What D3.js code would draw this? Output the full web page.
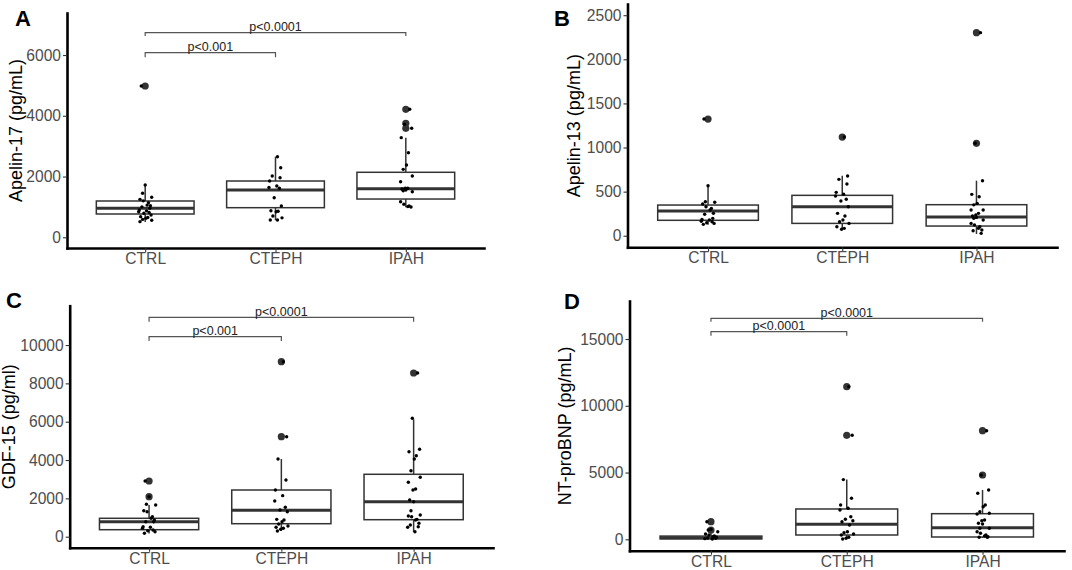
<!DOCTYPE html>
<html>
<head>
<meta charset="utf-8">
<script src="https://cdn.jsdelivr.net/npm/d3@7"></script>
<style>
  body { margin: 0; background: #fff; }
  svg { display: block; font-family: "Liberation Sans", Arial, sans-serif; }
</style>
</head>
<body>
<svg id="chart" width="1072" height="570"></svg>
<script>
// ── Data ──────────────────────────────────────────────────
const categories = ['CTRL', 'CTEPH', 'IPAH'];

// box stats per group: [whiskerLow, q1, median, q3, whiskerHigh]
const apelin17Stats = [[500, 767, 955, 1195, 1720], [560, 975, 1557, 1853, 2650], [990, 1260, 1600, 2140, 3280]];
const apelin13Stats = [[125, 175, 280, 348, 567], [70, 140, 329, 458, 680], [20, 110, 212, 352, 624]];
const gdf15Stats    = [[170, 365, 783, 960, 1654], [300, 678, 1377, 2436, 4054], [250, 887, 1826, 3256, 6125]];
const ntproStats    = [[10, 30, 110, 240, 570], [20, 322, 1123, 2270, 4470], [100, 172, 870, 1918, 3692]];

const apelin17Outliers = [[4980], [], [4213, 3752, 3588]];
const apelin13Outliers = [[1323], [1119], [2302, 1048]];
const gdf15Outliers    = [[2906, 2087], [9130, 5217], [8541]];
const ntproOutliers    = [[1318, 696], [11430, 7789], [8133, 4815]];

// individual measurements (jittered dots)
const a17Ctrl  = [4980, 1720, 1450, 1320, 1250, 1200, 1140, 1060, 1040, 1000, 955, 900, 870, 843, 820, 790, 734, 680, 650, 625, 590, 560, 515];
const a17Cteph = [2653, 2291, 2018, 1962, 1853, 1689, 1640, 1613, 1304, 1030, 876, 860, 843, 701, 640, 570, 570];
const a17Ipah  = [4213, 3720, 3590, 3280, 2785, 2380, 2237, 2018, 1830, 1613, 1613, 1590, 1557, 1530, 1500, 1172, 1086, 1030, 1010, 997];

const a13Ctrl  = [1323, 567, 385, 380, 360, 329, 310, 291, 254, 243, 197, 185, 178, 165, 159, 148, 140, 129];
const a13Cteph = [1119, 677, 639, 586, 492, 470, 450, 413, 393, 329, 254, 223, 178, 159, 140, 102, 84, 73];
const a13Ipah  = [2302, 1048, 624, 469, 442, 367, 350, 291, 291, 254, 235, 223, 208, 197, 178, 140, 121, 102, 84, 65, 57, 27];

const gdfCtrl  = [2906, 2087, 1690, 1654, 1357, 1305, 1043, 960, 871, 783, 783, 522, 490, 438, 350, 313, 261, 177];
const gdfCteph = [9130, 5217, 4054, 2958, 2436, 2141, 1862, 1533, 1393, 1305, 906, 871, 783, 663, 557, 490, 438, 386, 300];
const gdfIpah  = [8541, 6177, 4560, 4435, 4226, 4054, 3444, 3099, 2838, 2489, 2436, 1915, 1826, 1357, 1132, 1080, 1043, 906, 871, 698, 610, 522, 490, 261];

const ntCtrl  = [1318, 749, 696, 569, 397, 322, 247, 200, 150, 100, 75, 50, 20];
const ntCteph = [11430, 7789, 4470, 3070, 2569, 2320, 2194, 1693, 1498, 1393, 1318, 1071, 569, 494, 397, 322, 150, 75, 20];
const ntIpah  = [8133, 4815, 3692, 3445, 2569, 2441, 2067, 1947, 1895, 1445, 1393, 1198, 1146, 824, 824, 569, 449, 322, 247, 195, 150, 150];

const apelin17Ticks = [0, 2000, 4000, 6000];
const apelin13Ticks = [0, 500, 1000, 1500, 2000, 2500];
const gdf15Ticks    = [0, 2000, 4000, 6000, 8000, 10000];
const ntproTicks    = [0, 5000, 10000, 15000];

// significance brackets: [fromGroup, toGroup, level, tickEnd, label]
const apelin17Brackets = [[0, 1, 6076, 5925, 'p<0.001'], [0, 2, 6735, 6626, 'p<0.0001']];
const gdf15Brackets    = [[0, 1, 10435, 10210, 'p<0.001'], [0, 2, 11447, 11217, 'p<0.0001']];
const ntproBrackets    = [[0, 1, 15550, 15250, 'p<0.0001'], [0, 2, 16551, 16300, 'p<0.0001']];

// ── Layout ────────────────────────────────────────────────
// fixed horizontal jitter pattern (fraction of category step)
const JITTER = [-0.03, 0.0, -0.02, 0.05, -0.04, -0.015, 0.025, 0.015, 0.04, -0.025, 0.035,
  -0.045, 0.01, -0.05, 0.03, -0.01, 0.045, -0.035, 0.02, 0.005, -0.02, 0.05, -0.04, 0.015, -0.005];

const panels = [
  { key: 'A', title: 'Apelin-17 (pg/mL)', stats: apelin17Stats, outliers: apelin17Outliers,
    points: [a17Ctrl, a17Cteph, a17Ipah], ticks: apelin17Ticks, brackets: apelin17Brackets,
    frame: { left: 67, right: 484, top: 13, bottom: 248 }, domain: [-352, 7383],
    titleX: 22, labelX: 15, labelY: 26 },
  { key: 'B', title: 'Apelin-13 (pg/mL)', stats: apelin13Stats, outliers: apelin13Outliers,
    points: [a13Ctrl, a13Cteph, a13Ipah], ticks: apelin13Ticks, brackets: [],
    frame: { left: 627.5, right: 1057, top: 4, bottom: 247.3 }, domain: [-131, 2627],
    titleX: 580, labelX: 554, labelY: 26 },
  { key: 'C', title: 'GDF-15 (pg/ml)', stats: gdf15Stats, outliers: gdf15Outliers,
    points: [gdfCtrl, gdfCteph, gdfIpah], ticks: gdf15Ticks, brackets: gdf15Brackets,
    frame: { left: 69.7, right: 493, top: 305.7, bottom: 547.7 }, domain: [-574, 12052],
    titleX: 15, labelX: 6, labelY: 308 },
  { key: 'D', title: 'NT-proBNP (pg/mL)', stats: ntproStats, outliers: ntproOutliers,
    points: [ntCtrl, ntCteph, ntIpah], ticks: ntproTicks, brackets: ntproBrackets,
    frame: { left: 629.5, right: 1064, top: 301, bottom: 550.7 }, domain: [-854, 17846],
    titleX: 571, labelX: 564, labelY: 309 },
];

const svg = d3.select('#chart');

// ── Render ────────────────────────────────────────────────
panels.forEach(p => {
  const f = p.frame;
  const g = svg.append('g').attr('class', 'panel');
  const x = d3.scalePoint().domain(categories).range([f.left, f.right]).padding(0.6);
  const y = d3.scaleLinear().domain(p.domain).range([f.bottom, f.top]);
  const step = x.step();
  const bw = step * 0.75;

  categories.forEach((c, i) => {
    const [lo, q1, med, q3, hi] = p.stats[i];
    const cx = x(c);
    const box = g.append('g').attr('class', 'box');

    // whiskers
    box.append('line').attr('x1', cx).attr('x2', cx).attr('y1', y(hi)).attr('y2', y(q3))
      .attr('stroke', '#333').attr('stroke-width', 1.5);
    box.append('line').attr('x1', cx).attr('x2', cx).attr('y1', y(q1)).attr('y2', y(lo))
      .attr('stroke', '#333').attr('stroke-width', 1.5);

    box.append('rect')
      .attr('x', cx - bw / 2).attr('y', y(q3))
      .attr('width', bw).attr('height', y(q1) - y(q3))
      .attr('fill', '#fff').attr('stroke', '#333').attr('stroke-width', 1.5);

    box.append('line')
      .attr('x1', cx - bw / 2).attr('x2', cx + bw / 2)
      .attr('y1', y(med)).attr('y2', y(med))
      .attr('stroke', '#333').attr('stroke-width', 3);

    // boxplot outliers
    box.selectAll('.outlier').data(p.outliers[i]).enter().append('circle')
      .attr('class', 'outlier')
      .attr('cx', cx).attr('cy', d => y(d)).attr('r', 3.6)
      .attr('fill', '#333');

    // jittered raw points
    box.selectAll('.dot').data(p.points[i]).enter().append('circle')
      .attr('class', 'dot')
      .attr('cx', (d, j) => cx + JITTER[(j + i * 7) % JITTER.length] * step)
      .attr('cy', d => y(d)).attr('r', 1.7)
      .attr('fill', '#000');
  });

  // axes
  const yAxis = g.append('g')
    .attr('transform', `translate(${f.left},0)`)
    .call(d3.axisLeft(y).tickValues(p.ticks).tickFormat(d3.format('d'))
      .tickSize(4).tickSizeOuter(0).tickPadding(2));
  const xAxis = g.append('g')
    .attr('transform', `translate(0,${f.bottom})`)
    .call(d3.axisBottom(x).tickSize(4).tickSizeOuter(0).tickPadding(1));

  [yAxis, xAxis].forEach(a => {
    a.attr('font-family', null).attr('font-size', 15.6);
    a.select('.domain').attr('stroke', '#000').attr('stroke-width', 2.6).attr('stroke-linecap', 'square');
    a.selectAll('.tick line').attr('stroke', '#333').attr('stroke-width', 1.1);
    a.selectAll('.tick text').attr('fill', '#4d4d4d');
  });

  // y title
  g.append('text')
    .attr('transform', `translate(${p.titleX},${(f.top + f.bottom) / 2}) rotate(-90)`)
    .attr('text-anchor', 'middle')
    .attr('font-size', 18)
    .attr('fill', '#000')
    .text(p.title);

  // panel letter
  g.append('text')
    .attr('x', p.labelX).attr('y', p.labelY)
    .attr('font-size', 22).attr('font-weight', 700)
    .attr('fill', '#000')
    .text(p.key);

  // significance brackets
  p.brackets.forEach(([a, b, level, end, label]) => {
    const x1 = x(categories[a]), x2 = x(categories[b]);
    g.append('path')
      .attr('d', `M${x1},${y(end)}V${y(level)}H${x2}V${y(end)}`)
      .attr('fill', 'none').attr('stroke', '#555').attr('stroke-width', 1.2);
    g.append('text')
      .attr('x', (x1 + x2) / 2).attr('y', y(level) - 1.5)
      .attr('text-anchor', 'middle')
      .attr('font-size', 12.5).attr('fill', '#222')
      .text(label);
  });
});
</script>
</body>
</html>
